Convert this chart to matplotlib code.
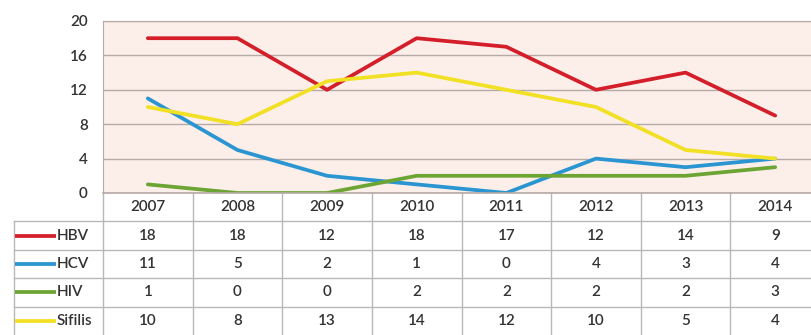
import numpy as np
import matplotlib
matplotlib.use('Agg')
import matplotlib.pyplot as plt

# yearly case counts
years = [2007, 2008, 2009, 2010, 2011, 2012, 2013, 2014]
names = ['HBV', 'HCV', 'HIV', 'Sifilis']
hbv = [18, 18, 12, 18, 17, 12, 14, 9]
hcv = [11, 5, 2, 1, 0, 4, 3, 4]
hiv = [1, 0, 0, 2, 2, 2, 2, 3]
sifilis = [10, 8, 13, 14, 12, 10, 5, 4]
series = [hbv, hcv, hiv, sifilis]
colors = ['#d41f2b', '#2a95d0', '#6da534', '#f1e023']
yticks = [0, 4, 8, 12, 16, 20]

W, H = 812, 335
fig = plt.figure(figsize=(W / 100, H / 100), dpi=100)
plt.rcParams['font.family'] = ['Lato', 'DejaVu Sans']
txt = '#333333'
gridc = '#b5aaa6'
tabc = '#b8b8b8'
fs = 11

def px(l, t, r, b):
    return [l / W, 1 - b / H, (r - l) / W, (b - t) / H]

# chart area
ax = fig.add_axes(px(103, 21, 820, 193))
ax.set_facecolor('#fcefea')
ax.set_xlim(years[0] - 0.5, years[-1] + 0.5)
ax.set_ylim(0, 20)
ax.set_yticks(yticks)
ax.set_yticklabels([str(v) for v in yticks], fontsize=fs, color=txt,
                   fontweight='semibold')
ax.tick_params(axis='y', length=0, pad=11)
ax.set_xticks([])
ax.grid(axis='y', color=gridc, linewidth=1)
ax.set_axisbelow(True)
for s in ax.spines.values():
    s.set_visible(False)
ax.spines['left'].set_visible(True)
ax.spines['left'].set_color(gridc)
ax.spines['top'].set_visible(True)
ax.spines['top'].set_color(gridc)

for vals, c in zip(series, colors):
    ax.plot(years, vals, color=c, linewidth=2.7, solid_joinstyle='round',
            solid_capstyle='round', zorder=3)

# data table under the chart
tab = fig.add_axes(px(103, 193, 820, 335), sharex=ax)
tab.set_ylim(len(names) + 1, 0)
tab.axis('off')
x0 = years[0] - 0.5
x1 = years[-1] + 0.5
lab_left = x0 - (103 - 14) / ((820 - 103) / len(years))
edges = [y - 0.5 for y in years] + [x1]
for e in edges:
    tab.plot([e, e], [0, len(names) + 1], color=tabc, lw=1, clip_on=False)
tab.plot([lab_left, lab_left], [1, len(names) + 1], color=tabc, lw=1, clip_on=False)
tab.plot([x0, x1], [0, 0], color=gridc, lw=1.2, clip_on=False)
for r in range(1, len(names) + 1):
    tab.plot([lab_left, x1], [r, r], color=tabc, lw=1, clip_on=False)

for y in years:
    tab.text(y, 0.5, str(y), ha='center', va='center', fontsize=fs, color=txt,
             fontweight='semibold')
for i, (n, vals, c) in enumerate(zip(names, series, colors)):
    row = i + 1.5
    tab.plot([lab_left + 0.01, lab_left + 0.47], [row, row], color=c, lw=2.7,
             clip_on=False, solid_capstyle='butt')
    tab.text(lab_left + 0.48, row, n, ha='left', va='center', fontsize=fs,
             color=txt, fontweight='semibold')
    for y, v in zip(years, vals):
        tab.text(y, row, str(v), ha='center', va='center', fontsize=fs,
                 color=txt, fontweight='semibold')

fig.savefig('out.png', dpi=100)
